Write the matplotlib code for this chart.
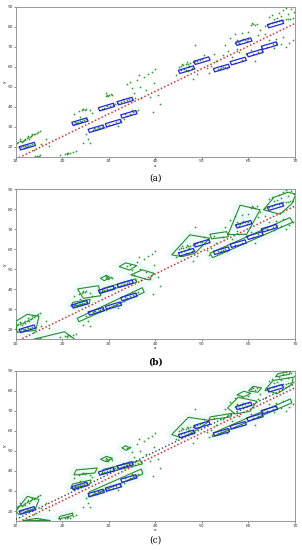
import matplotlib
matplotlib.use("Agg")
import matplotlib.pyplot as plt
from matplotlib.patches import Polygon
import numpy as np

# ---------------- data ----------------
RECT_X = [12.5, 23.8, 27.3, 29.5, 33.5, 31.0, 34.3, 46.7, 50.0, 54.2, 57.8, 61.4, 64.5, 59.0, 65.8]
RECT_Y = [20.3, 32.5, 29.0, 39.8, 42.8, 31.8, 36.2, 58.5, 63.0, 59.3, 62.8, 66.8, 70.5, 72.5, 81.3]

PTS_X = [10.3, 10.6, 10.9, 11.2, 11.5, 11.8, 12.1, 12.4, 12.7, 13.0, 13.3, 13.6, 13.9, 14.2, 14.5, 11.0, 12.0, 12.9, 13.5, 14.8, 15.2, 11.4, 12.6,
         11.2, 11.6, 12.0, 12.3, 12.7, 13.1, 11.8, 12.5, 10.8, 13.4, 15.5, 16.5, 14.0, 17.2,
         14.2, 14.6, 15.0, 15.3, 14.8,
         20.6, 21.0, 21.3, 21.7, 21.1, 22.2, 19.5, 23.0,
         22.5, 23.0, 23.4, 23.9, 24.3, 24.7, 23.2, 24.0, 22.8, 25.0,
         24.2, 24.5, 24.8, 24.4, 25.0, 22.5, 23.5, 26.0, 23.8, 26.3,
         26.5, 27.0, 27.4, 27.8, 28.2, 26.8, 27.6, 28.5, 24.5, 25.5, 25.2, 26.0,
         29.3, 29.7, 30.1, 30.4, 29.9, 30.6, 29.5,
         29.0, 29.6, 30.2, 30.8, 31.4, 32.0, 32.6, 33.2, 33.8, 34.4, 35.0, 35.6, 31.0, 33.0, 28.5,
         30.0, 30.8, 31.6, 32.4, 33.2, 34.0, 34.6, 35.2, 35.8, 36.3, 33.5, 35.0, 32.0, 29.5,
         34.0, 34.5, 35.5, 36.0, 36.8, 37.5, 38.0, 38.5, 39.2, 39.8, 40.5, 41.0, 39.5, 37.0, 36.5, 40.0, 38.8, 35.0,
         45.0, 45.5, 46.0, 46.5, 47.0, 47.5, 48.0, 48.5, 49.0, 49.5, 50.0, 45.8, 46.8, 47.3, 46.2, 46.6, 47.0, 45.5, 47.8, 46.9,
         48.5, 52.5, 51.0, 53.0, 49.0, 44.5, 50.5, 52.0, 54.5, 51.5, 55.5, 48.0,
         53.5, 54.0, 54.5, 55.0, 55.4, 54.2, 53.8,
         57.2, 57.7, 58.2, 58.7, 59.2, 59.7, 58.0, 58.9, 57.5, 60.0,
         60.5, 61.0, 61.5, 60.8, 61.8,
         56.0, 57.0, 58.5, 55.0, 60.0, 62.0, 59.5, 60.5, 56.5, 61.5, 62.5, 57.5, 58.0,
         63.5, 64.0, 64.5, 65.0, 65.5, 66.0, 66.5, 67.0, 67.5, 68.0, 68.5, 69.0, 69.5, 66.2, 65.5,
         66.5, 67.5, 68.5, 69.2, 67.0, 69.8, 65.0, 68.0, 64.5,
         63.0, 64.5, 66.0, 67.5, 68.8, 69.5, 65.5, 67.0, 63.5, 68.0,
         57.0, 58.5, 61.0, 62.0, 64.0, 65.2, 66.0, 63.0]
PTS_Y = [22.0, 22.5, 22.8, 23.1, 23.0, 23.6, 24.0, 24.3, 24.8, 25.1, 25.4, 25.9, 26.2, 26.5, 27.0, 23.8, 23.2, 24.1, 26.6, 27.6, 28.0, 22.4, 25.5,
         20.0, 20.4, 20.2, 19.8, 20.6, 20.9, 19.6, 21.0, 19.9, 21.2, 21.5, 24.0, 18.5, 20.5,
         15.3, 15.6, 15.4, 15.8, 15.1,
         16.5, 16.9, 17.1, 16.7, 16.3, 17.4, 16.0, 17.8,
         31.5, 32.0, 32.4, 32.8, 33.1, 33.4, 31.8, 32.2, 32.6, 33.9,
         38.3, 38.8, 38.5, 39.1, 39.0, 36.5, 37.8, 38.2, 35.0, 36.8,
         28.5, 29.0, 28.7, 29.4, 29.6, 29.3, 30.0, 30.1, 22.0, 24.0, 26.5, 21.8,
         45.5, 46.0, 45.8, 46.3, 45.2, 45.6, 46.6,
         39.5, 40.1, 40.3, 40.8, 41.3, 41.8, 42.2, 42.6, 43.1, 43.6, 44.0, 44.5, 41.8, 43.8, 38.8,
         31.0, 31.6, 32.3, 33.0, 34.0, 35.5, 36.5, 37.3, 38.0, 38.6, 36.4, 38.5, 30.5, 29.8,
         51.5, 52.2, 47.0, 53.5, 50.0, 55.0, 48.5, 56.5, 57.5, 52.0, 46.0, 41.5, 37.5, 44.5, 56.0, 59.0, 45.0, 49.5,
         60.0, 60.4, 60.8, 61.2, 61.5, 61.8, 62.2, 62.6, 63.0, 63.4, 63.8, 61.5, 62.2, 60.5, 59.0, 58.2, 57.8, 58.5, 59.2, 60.0,
         71.0, 66.5, 59.5, 63.0, 56.5, 56.0, 66.0, 60.5, 66.0, 57.0, 68.0, 54.0,
         59.0, 59.3, 59.6, 60.0, 59.2, 60.4, 58.6,
         72.0, 72.5, 72.8, 73.1, 73.5, 72.6, 71.6, 74.0, 73.4, 73.8,
         80.8, 81.2, 80.6, 81.8, 81.4,
         74.5, 76.5, 77.0, 71.0, 77.5, 76.0, 66.5, 68.5, 65.0, 63.0, 78.5, 69.0, 67.5,
         80.5, 81.0, 81.3, 81.8, 82.1, 82.4, 82.8, 83.1, 83.4, 83.6, 83.8, 84.0, 84.3, 84.5, 84.0,
         87.0, 88.5, 86.5, 89.0, 85.5, 87.5, 86.0, 89.5, 85.0,
         68.0, 73.5, 74.0, 75.0, 72.0, 73.5, 69.5, 71.5, 76.5, 70.0,
         62.0, 63.2, 66.3, 67.4, 70.0, 71.2, 71.8, 69.5]

REG_SLOPE = 1.13
REG_ICPT = 2.5
REG2_ICPT = 4.5

POLYS_B = [
    [(10, 24), (12.5, 27.5), (15, 26.5), (14.3, 19.5), (10.3, 18.5)],
    [(12, 14), (20.5, 18.8), (23, 14.5)],
    [(23.3, 40.2), (27.8, 41.8), (28.3, 36.8), (24.5, 35.5)],
    [(28.2, 45.5), (29.5, 47.0), (30.3, 45.8), (29.0, 44.3)],
    [(32.2, 51.3), (33.6, 53.2), (36.0, 51.8), (34.5, 49.6)],
    [(34.7, 47.2), (37.2, 49.7), (39.7, 48.0), (38.6, 44.7)],
    [(28.5, 38.5), (28.8, 40.5), (35.8, 45.2), (36.0, 43.5)],
    [(23.2, 25.5), (37.2, 40.8), (37.6, 38.5), (23.6, 23.8)],
    [(21.8, 31.5), (22.3, 33.5), (26.0, 35.0), (25.8, 32.8)],
    [(43.5, 57.2), (47.4, 67.2), (51.7, 65.5), (48.5, 58.0), (45.7, 56.3)],
    [(51.7, 67.5), (55.3, 68.8), (55.7, 66.3), (52.1, 65.2)],
    [(55.6, 67.3), (58.2, 82.0), (62.5, 79.7), (59.6, 67.5)],
    [(63.2, 79.7), (65.5, 86.0), (68.5, 88.5), (70.2, 87.5), (69.3, 82.8), (66.8, 77.5)],
    [(51.7, 58.0), (68.9, 75.8), (69.5, 73.5), (52.3, 55.8)],
]

POLYS_C = [
    [(10, 19.8), (12.5, 27.3), (15, 25.7), (14.3, 21.5), (10.7, 18.2)],
    [(11.5, 15.2), (14.5, 16.3), (17.5, 15.2)],
    [(19.2, 16.0), (19.5, 17.3), (22.3, 19.0), (22.2, 17.8)],
    [(21.8, 31.2), (22.2, 33.5), (26.2, 35.5), (25.8, 33.0)],
    [(22.5, 38.0), (23.0, 40.5), (27.5, 41.5), (27.0, 39.0)],
    [(28.2, 45.8), (29.5, 47.3), (30.8, 46.3), (29.5, 44.6)],
    [(32.8, 51.5), (33.6, 52.6), (34.6, 51.5), (33.8, 50.3)],
    [(28.5, 38.5), (28.8, 40.8), (36.8, 45.2), (37.2, 43.5)],
    [(25.6, 27.0), (25.8, 29.5), (37.0, 41.0), (37.3, 38.5)],
    [(43.5, 58.2), (47.1, 66.8), (51.7, 65.2), (49.6, 61.5), (45.7, 56.5)],
    [(51.5, 65.5), (51.8, 67.0), (56.5, 68.8), (56.2, 67.0)],
    [(55.5, 71.5), (57.8, 76.8), (61.8, 74.8), (60.3, 69.8), (57.1, 68.5)],
    [(57.5, 78.0), (59.0, 79.8), (60.5, 78.8), (59.0, 77.0)],
    [(60.0, 80.0), (61.0, 82.3), (62.8, 81.5), (62.0, 79.3)],
    [(63.6, 80.7), (65.3, 85.2), (69.6, 86.8), (69.3, 83.2), (66.1, 78.5)],
    [(65.8, 87.0), (66.3, 88.5), (69.0, 90.0), (68.8, 88.3)],
    [(52.2, 57.0), (52.5, 59.0), (69.0, 76.0), (69.3, 74.0)],
]

LABELS = ["(a)", "(b)", "(c)"]

# ---------------- style ----------------
GREEN_PT = "#2f9a2f"
GREEN_LN = "#2a8a2a"
BLUE = "#2626d8"
RED = "#d83030"
HALO = "#eefbfa"
RECT_U = np.array([1.6, 1.1])
RECT_V = np.array([-0.15, 0.8])

fig = plt.figure(figsize=(3.02, 5.50), dpi=100)
axes_pos = [
    [0.052, 0.715, 0.925, 0.273],
    [0.052, 0.383, 0.925, 0.273],
    [0.052, 0.0527, 0.925, 0.273],
]
label_y = [0.677, 0.342, 0.019]
polys = [None, POLYS_B, POLYS_C]

xs = np.array([10, 70])
for i, pos in enumerate(axes_pos):
    ax = fig.add_axes(pos)
    ax.set_xlim(10, 70)
    ax.set_ylim(15, 90)
    ax.set_xticks(range(10, 71, 10))
    ax.set_yticks(range(20, 91, 10))
    ax.tick_params(labelsize=3.2, length=1.2, width=0.4, pad=0.6, colors="#333333")
    for s in ax.spines.values():
        s.set_linewidth(0.6)
        s.set_color("#888888")
    ax.set_xlabel("x", fontsize=3.2, labelpad=0.3)
    ax.set_ylabel("y", fontsize=3.2, labelpad=0.5)

    if polys[i] is not None:
        for p in polys[i]:
            ax.add_patch(Polygon(p, closed=True, facecolor=HALO, edgecolor=HALO,
                                 lw=7, joinstyle="round", zorder=1))
        for p in polys[i]:
            ax.add_patch(Polygon(p, closed=True, facecolor="none", edgecolor=GREEN_LN,
                                 lw=0.8, zorder=4))

    ax.scatter(PTS_X, PTS_Y, s=1.6, c=GREEN_PT, marker="o", linewidths=0, zorder=2)

    for cx, cy in zip(RECT_X, RECT_Y):
        c = np.array([cx, cy])
        corners = [c - RECT_U - RECT_V, c + RECT_U - RECT_V, c + RECT_U + RECT_V, c - RECT_U + RECT_V]
        ax.add_patch(Polygon(corners, closed=True, facecolor="none", edgecolor=BLUE,
                             lw=0.9, joinstyle="round", zorder=5))

    ax.plot(xs, REG_SLOPE * xs + REG_ICPT, color=RED, lw=1.1, ls=(0, (1, 1.4)), zorder=3)
    if i == 2:
        ax.plot(xs, REG_SLOPE * xs + REG2_ICPT, color="#444444", lw=1.0, ls=(0, (1, 1.6)), zorder=3)

    fig.text(0.515, label_y[i], LABELS[i], ha="center", va="center",
             fontsize=6.5, family="DejaVu Serif", fontweight="bold" if i == 1 else "normal")

fig.savefig("out.png", dpi=100)
